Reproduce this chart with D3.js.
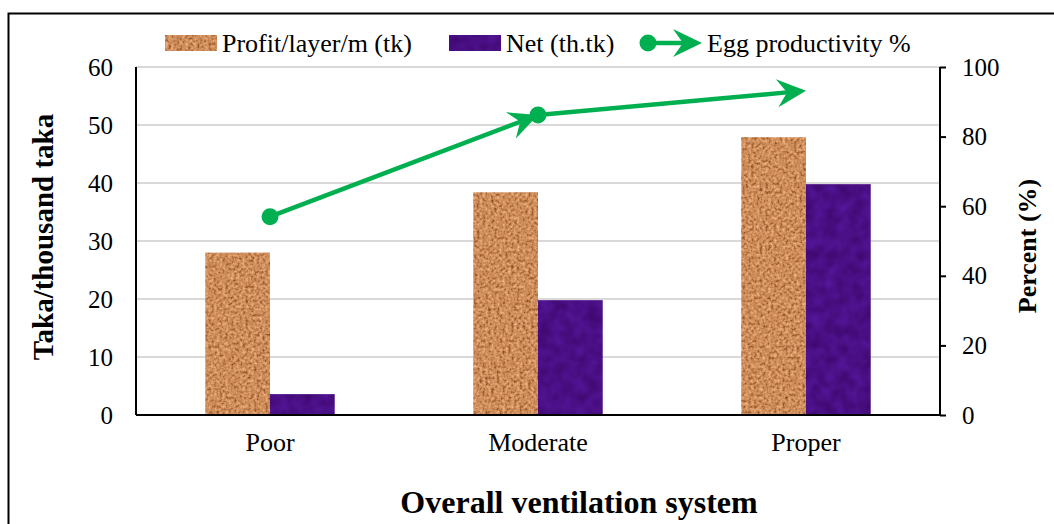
<!DOCTYPE html>
<html><head><meta charset="utf-8">
<script src="https://cdn.jsdelivr.net/npm/d3@7"></script>
<style>body{margin:0;background:#fff}svg{display:block;font-family:"Liberation Serif","Times New Roman",serif}</style>
</head><body><svg id="c" width="1054" height="524"></svg>
<script>
const categories = ["Poor", "Moderate", "Proper"];
const profitValues = [28, 38.4, 47.9];
const netValues = [3.6, 19.8, 39.8];
const eggValues = [57, 86.2, 93.2];
const leftTicks = [0, 10, 20, 30, 40, 50, 60];
const rightTicks = [0, 20, 40, 60, 80, 100];
const seriesNames = ["Profit/layer/m (tk)", "Net (th.tk)", "Egg productivity %"];

const svg = d3.select("#c");
const L = 136, R = 940, T = 67, B = 415;
const green = "#00B050";

// defs: textures
const defs = svg.append("defs");
function texture(id, seed, freq, rT, gT, bT) {
  const f = defs.append("filter").attr("id", id).attr("x", 0).attr("y", 0).attr("width", 1).attr("height", 1)
    .attr("color-interpolation-filters", "sRGB");
  f.append("feTurbulence").attr("type", "fractalNoise").attr("baseFrequency", freq).attr("numOctaves", 2).attr("seed", seed).attr("result", "n");
  f.append("feColorMatrix").attr("in", "n").attr("type", "matrix")
    .attr("values", "1 0 0 0 0  1 0 0 0 0  1 0 0 0 0  0 0 0 0 1").attr("result", "g");
  const ct = f.append("feComponentTransfer").attr("in", "g").attr("result", "col");
  ct.append("feFuncR").attr("type", "table").attr("tableValues", rT);
  ct.append("feFuncG").attr("type", "table").attr("tableValues", gT);
  ct.append("feFuncB").attr("type", "table").attr("tableValues", bT);
  f.append("feComposite").attr("in", "col").attr("in2", "SourceGraphic").attr("operator", "in");
}
texture("cork", 4, 0.35, "0.4 0.58 0.76 0.85 0.93 0.98", "0.16 0.32 0.5 0.6 0.7 0.8", "0.08 0.17 0.3 0.4 0.5 0.6");
texture("purp", 9, 0.08, "0.22 0.26 0.29 0.32 0.36", "0.02 0.04 0.06 0.08 0.1", "0.4 0.46 0.52 0.58 0.64");

// frame
svg.append("rect").attr("x", 8.5).attr("y", 13.5).attr("width", 1100).attr("height", 600)
  .attr("fill", "none").attr("stroke", "#000").attr("stroke-width", 2);

const x0 = d3.scaleBand().domain(categories).range([L, R]).paddingInner(0.517).paddingOuter(0.2585);
const x1 = d3.scaleBand().domain([0, 1]).range([0, x0.bandwidth()]);
const xc = d3.scalePoint().domain(categories).range([L, R]).padding(0.5);
const yL = d3.scaleLinear().domain([0, 60]).range([B, T]);
const yR = d3.scaleLinear().domain([0, 100]).range([B, T]);

// gridlines
svg.append("g").selectAll("line").data(leftTicks.filter(d => d > 0)).join("line")
  .attr("x1", L).attr("x2", R).attr("y1", d => yL(d)).attr("y2", d => yL(d))
  .attr("stroke", "#D9D9D9").attr("stroke-width", 2);

// bars
const barG = svg.append("g");
categories.forEach((c, i) => {
  [[profitValues[i], "#D9A066", "url(#cork)"], [netValues[i], "#4B1180", "url(#purp)"]].forEach((s, j) => {
    barG.append("rect").attr("x", x0(c) + x1(j)).attr("y", yL(s[0]))
      .attr("width", x1.bandwidth()).attr("height", yL(0) - yL(s[0]))
      .attr("fill", s[1]).attr("filter", s[2]);
  });
});

// axes
const axL = svg.append("g").attr("transform", `translate(${L},0)`)
  .call(d3.axisLeft(yL).tickValues(leftTicks).tickSize(0).tickPadding(23));
const axR = svg.append("g").attr("transform", `translate(${R},0)`)
  .call(d3.axisRight(yR).tickValues(rightTicks).tickSize(6).tickPadding(16));
const axB = svg.append("g").attr("transform", `translate(0,${B})`)
  .call(d3.axisBottom(x0).tickSize(0).tickPadding(18));
[axL, axR, axB].forEach(a => {
  a.select(".domain").attr("stroke", "#000").attr("stroke-width", 2);
  a.selectAll(".tick line").attr("stroke", "#000").attr("stroke-width", 2);
  a.selectAll("text").attr("font-family", '"Liberation Serif","Times New Roman",serif').attr("fill", "#000");
});
axL.selectAll("text").attr("font-size", 25);
axR.selectAll("text").attr("font-size", 25);
axB.selectAll("text").attr("font-size", 26);
axB.select(".domain").attr("d", `M${L},0H${R}`);
axL.select(".domain").attr("d", `M0,${T}V${B}`);
axR.select(".domain").attr("d", `M0,${T}V${B}`);

// line segments with circle start and arrow end
function arrowHead(g, xa, ya, xb, yb) {
  const ang = Math.atan2(yb - ya, xb - xa);
  const len = 29, hw = 14, notch = 10;
  const pts = [[0, 0], [-len, -hw], [-len + notch, 0], [-len, hw]].map(([px, py]) =>
    [xb + px * Math.cos(ang) - py * Math.sin(ang), yb + px * Math.sin(ang) + py * Math.cos(ang)]);
  g.append("path").attr("d", "M" + pts.map(p => p.join(",")).join("L") + "Z").attr("fill", green);
  return [xb - (len - notch) * Math.cos(ang), yb - (len - notch) * Math.sin(ang)];
}
const lineG = svg.append("g");
for (let i = 0; i < categories.length - 1; i++) {
  const xa = xc(categories[i]), ya = yR(eggValues[i]);
  const xb = xc(categories[i + 1]), yb = yR(eggValues[i + 1]);
  const end = arrowHead(lineG, xa, ya, xb, yb);
  lineG.append("line").attr("x1", xa).attr("y1", ya).attr("x2", end[0]).attr("y2", end[1])
    .attr("stroke", green).attr("stroke-width", 4.5);
  lineG.append("circle").attr("cx", xa).attr("cy", ya).attr("r", 8.5).attr("fill", green);
}

// axis titles
svg.append("text").attr("transform", "translate(53,237) rotate(-90)").attr("text-anchor", "middle")
  .attr("font-size", 29).attr("font-weight", "bold").text("Taka/thousand taka");
svg.append("text").attr("transform", "translate(1036,246) rotate(-90)").attr("text-anchor", "middle")
  .attr("font-size", 26).attr("font-weight", "bold").text("Percent (%)");
svg.append("text").attr("x", 579).attr("y", 513).attr("text-anchor", "middle")
  .attr("font-size", 32).attr("font-weight", "bold").text("Overall ventilation system");

// legend
const lg = svg.append("g");
lg.append("rect").attr("x", 165).attr("y", 35).attr("width", 52).attr("height", 16).attr("fill", "#D9A066").attr("filter", "url(#cork)");
lg.append("text").attr("x", 222).attr("y", 52).attr("font-size", 26).text(seriesNames[0]);
lg.append("rect").attr("x", 449).attr("y", 35).attr("width", 52).attr("height", 16).attr("fill", "#4B1180").attr("filter", "url(#purp)");
lg.append("text").attr("x", 506).attr("y", 52).attr("font-size", 26).text(seriesNames[1]);
const le = arrowHead(lg, 648, 43, 702, 43);
lg.append("line").attr("x1", 648).attr("y1", 43).attr("x2", le[0]).attr("y2", le[1]).attr("stroke", green).attr("stroke-width", 4.5);
lg.append("circle").attr("cx", 648).attr("cy", 43).attr("r", 8.5).attr("fill", green);
lg.append("text").attr("x", 707).attr("y", 52).attr("font-size", 26).text(seriesNames[2]);
</script></body></html>
